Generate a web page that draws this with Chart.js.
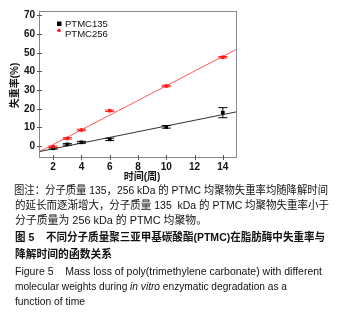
<!DOCTYPE html>
<html>
<head>
<meta charset="utf-8">
<script src="https://cdn.jsdelivr.net/npm/chart.js@4/dist/chart.umd.min.js"></script>
<style>
  html, body { margin: 0; padding: 0; background: #fff; }
  body { width: 343px; height: 314px; position: relative; overflow: hidden; }
  #wrap { position: absolute; left: 0; top: 0; width: 343px; height: 185px; }
  .ln { position: absolute; white-space: nowrap; font-family: "Liberation Sans", "Noto Sans CJK SC", sans-serif; font-size: 11px; color: #111; line-height: 14px; transform-origin: 0 0; }
  .b { font-weight: bold; }
</style>
</head>
<body>
<div id="wrap"><canvas id="c"></canvas></div>
<div class="ln" data-w="314" style="left:14px;top:183px;">图注：分子质量 135，256 kDa 的 PTMC 均聚物失重率均随降解时间</div>
<div class="ln" data-w="314" style="left:15px;top:198px;">的延长而逐渐增大，分子质量 135&nbsp; kDa 的 PTMC 均聚物失重率小于</div>
<div class="ln" data-w="192" style="left:15px;top:212.5px;">分子质量为 256 kDa 的 PTMC 均聚物。</div>
<div class="ln b" data-w="310" style="left:15px;top:229.5px;">图 5&nbsp;&nbsp;&nbsp; 不同分子质量聚三亚甲基碳酸酯(PTMC)在脂肪酶中失重率与</div>
<div class="ln b" data-w="97" style="left:15px;top:247px;">降解时间的函数关系</div>
<div class="ln" data-w="307" style="left:15px;top:263.5px;">Figure 5&nbsp;&nbsp;&nbsp; Mass loss of poly(trimethylene carbonate) with different</div>
<div class="ln" data-w="272" style="left:15px;top:279px;">molecular weights during <i>in vitro</i> enzymatic degradation as a</div>
<div class="ln" data-w="70" style="left:15px;top:293.5px;">function of time</div>
<script>
const weeks = [2, 3, 4, 6, 10, 14];
const ptmc135 = [-1.2, 0.9, 2.0, 3.6, 10.3, 17.9];
const ptmc135Err = [0.4, 0.4, 0.5, 0.6, 0.7, 2.7];
const ptmc256 = [-0.4, 4.1, 8.6, 18.9, 32.2, 47.6];
const ptmc256Err = [0.4, 0.4, 0.4, 0.4, 0.4, 0.4];
const fitX = [1, 15];
const fit135Y = [-3.0, 18.4];
const fit256Y = [-3.1, 52.0];
const xTicks = [2, 4, 6, 8, 10, 12, 14];
const yTicks = [0, 10, 20, 30, 40, 50, 60, 70];
const seriesNames = ['PTMC135', 'PTMC256'];
const xTitle = '时间(周)';
const yTitle = '失重率(%)';

document.querySelectorAll('.ln').forEach(el => {
  const target = +el.dataset.w;
  const w = el.getBoundingClientRect().width;
  if (w > 0) el.style.transform = 'scaleX(' + (target / w) + ')';
});

const toPts = (xs, ys) => xs.map((x, i) => ({ x: x, y: ys[i] }));

const errorBars = {
  id: 'errorBars',
  afterDatasetsDraw(chart) {
    const ctx = chart.ctx;
    const xs = chart.scales.x, ys = chart.scales.y;
    chart.data.datasets.forEach((ds) => {
      if (!ds.err) return;
      ctx.save();
      ctx.strokeStyle = ds.borderColor;
      ctx.lineWidth = 1;
      ds.data.forEach((p, i) => {
        const px = xs.getPixelForValue(p.x);
        const top = ys.getPixelForValue(p.y + ds.err[i]);
        const bot = ys.getPixelForValue(p.y - ds.err[i]);
        ctx.beginPath();
        ctx.moveTo(px, top); ctx.lineTo(px, bot);
        ctx.moveTo(px - 4.5, top); ctx.lineTo(px + 4.5, top);
        ctx.moveTo(px - 4.5, bot); ctx.lineTo(px + 4.5, bot);
        ctx.stroke();
      });
      ctx.restore();
    });
  }
};

const frame = {
  id: 'frame',
  afterDraw(chart) {
    const { ctx, chartArea: a } = chart;
    const xs = chart.scales.x, ys = chart.scales.y;
    ctx.save();
    ctx.strokeStyle = '#888';
    ctx.lineWidth = 1;
    ctx.strokeRect(a.left + 0.5, a.top + 0.5, a.right - a.left - 1, a.bottom - a.top - 1);
    ctx.strokeStyle = '#555';
    ctx.beginPath();
    yTicks.forEach(v => {
      const y = Math.round(ys.getPixelForValue(v)) + 0.5;
      ctx.moveTo(a.left - 2, y); ctx.lineTo(a.left + 3, y);
    });
    xTicks.forEach(v => {
      const x = Math.round(xs.getPixelForValue(v)) + 0.5;
      ctx.moveTo(x, a.bottom + 2); ctx.lineTo(x, a.bottom - 3);
    });
    ctx.stroke();
    // legend
    const lx = a.left + 20;
    ctx.fillStyle = '#000';
    ctx.fillRect(lx - 2, a.top + 10.5, 4.5, 4.5);
    ctx.fillStyle = '#ff1a1a';
    ctx.beginPath(); ctx.arc(lx, a.top + 19.5, 1.8, 0, Math.PI * 2); ctx.fill();
    ctx.fillStyle = '#111';
    ctx.font = '9.5px "Liberation Sans", sans-serif';
    ctx.textBaseline = 'middle';
    ctx.textAlign = 'left';
    ctx.fillText(seriesNames[0], lx + 6, a.top + 13);
    ctx.fillText(seriesNames[1], lx + 6, a.top + 23.5);
    // axis titles
    ctx.font = 'bold 10px "Liberation Sans", "Noto Sans CJK SC", sans-serif';
    ctx.textAlign = 'center';
    ctx.fillText(xTitle, (a.left + a.right) / 2 + 4, a.bottom + 19.5);
    ctx.translate(15, (a.top + a.bottom) / 2 + 1);
    ctx.rotate(-Math.PI / 2);
    ctx.fillText(yTitle, 0, 0);
    ctx.restore();
  }
};

new Chart(document.getElementById('c'), {
  type: 'scatter',
  data: {
    datasets: [
      { label: 'fit135', type: 'line', data: toPts(fitX, fit135Y), borderColor: '#333', borderWidth: 1, pointRadius: 0, fill: false },
      { label: 'fit256', type: 'line', data: toPts(fitX, fit256Y), borderColor: '#ff5a5a', borderWidth: 1, pointRadius: 0, fill: false },
      { label: seriesNames[0], data: toPts(weeks, ptmc135), err: ptmc135Err, pointStyle: 'rect', pointRadius: 2.6, backgroundColor: '#000', borderColor: '#000', borderWidth: 0 },
      { label: seriesNames[1], data: toPts(weeks, ptmc256), err: ptmc256Err, pointStyle: 'circle', pointRadius: 2, backgroundColor: '#ff1a1a', borderColor: '#ff1a1a', borderWidth: 0 }
    ]
  },
  options: {
    responsive: true,
    maintainAspectRatio: false,
    animation: false,
    events: [],
    layout: { padding: { top: 11, right: 106, left: 0, bottom: 0 } },
    plugins: { legend: { display: false }, tooltip: { enabled: false } },
    scales: {
      x: {
        type: 'linear', min: 1, max: 15,
        afterFit: s => { s.height = 27; },
        afterBuildTicks: s => { s.ticks = xTicks.map(v => ({ value: v })); },
        grid: { display: false, drawTicks: false },
        border: { display: false },
        ticks: { padding: 3, color: '#111', font: { family: 'Liberation Sans', size: 10, weight: 'bold' } },
        title: { display: false }
      },
      y: {
        type: 'linear', min: -6.4, max: 72.4,
        afterFit: s => { s.width = 39; },
        afterBuildTicks: s => { s.ticks = yTicks.map(v => ({ value: v })); },
        grid: { display: false, drawTicks: false },
        border: { display: false },
        ticks: { padding: 4, color: '#111', font: { family: 'Liberation Sans', size: 10, weight: 'bold' } },
        title: { display: false }
      }
    }
  },
  plugins: [errorBars, frame]
});
</script>
</body>
</html>
